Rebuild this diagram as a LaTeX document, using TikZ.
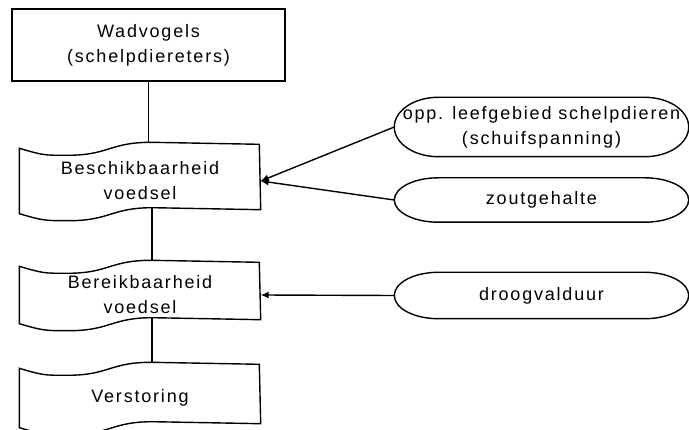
\documentclass[tikz,border=0pt]{standalone}
\usepackage{fontspec}
\setmainfont{Liberation Sans}[LetterSpace=10]
\usetikzlibrary{calc,arrows.meta}

\begin{document}
\begin{tikzpicture}[x=1pt,y=1pt,line width=1.4pt,
	txt/.style={font=\fontsize{18}{25}\selectfont,align=center},
	box/.style={txt,draw,minimum width=273pt,minimum height=72pt},
	tape/.style={txt,minimum width=240pt},
	oval/.style={txt,minimum width=293pt},
	arr/.style={-{Latex[length=8pt,width=7pt]}}]
	\useasboundingbox (0,0) rectangle (689,-430);
	\node[box] (wad) at (148.5,-45) {Wadvogels\\(schelpdiereters)};
	\node[tape,minimum height=64pt] (besch) at (140,-181) {Beschikbaarheid\\voedsel};
	\node[tape,minimum height=56pt] (bereik) at (140,-295) {Bereikbaarheid\\voedsel};
	\node[tape,minimum height=58pt] (verst) at (140,-398) {Verstoring};
	\node[oval,minimum height=58pt] (opp) at (541.5,-127) {opp. leefgebied schelpdieren\\(schuifspanning)};
	\node[oval,minimum height=43pt] (zout) at (541.5,-200) {zoutgehalte};
	\node[oval,minimum height=45pt] (droog) at (541.5,-295.5) {droogvalduur};

	\foreach \nd in {besch,bereik,verst}
		\draw (\nd.north west) .. controls +(24,-7) and +(-24,0) .. ++(48,-7) .. controls +(42,0) and +(-42,0) .. ++(84,13) -- ++(108,-2) -- ([yshift=4pt]\nd.south east) -- ++(-108,2) .. controls +(-42,0) and +(42,0) .. ++(-84,-13) .. controls +(-24,0) and +(24,-7) .. (\nd.south west) -- cycle;
	\foreach \nd in {opp,zout,droog}
		\draw let \p1=($(\nd.north)-(\nd.south)$) in ([xshift=44pt]\nd.north west) -- ([xshift=-44pt]\nd.north east) arc[start angle=90,end angle=-90,x radius=44pt,y radius={0.5*\y1}] -- ([xshift=44pt]\nd.south west) arc[start angle=270,end angle=90,x radius=44pt,y radius={0.5*\y1}] -- cycle;

	\draw (wad.south) -- ([yshift=6pt]wad.south |- besch.north);
	\draw ([xshift=12pt,yshift=6pt]besch.south) -- ([xshift=12pt,yshift=6pt]bereik.north);
	\draw ([xshift=12pt,yshift=6pt]bereik.south) -- ([xshift=12pt,yshift=6pt]verst.north);
	\draw[arr] (opp.west) -- (besch.east);
	\draw[arr] (zout.west) -- (besch.east);
	\draw[arr] (droog.west) -- (bereik.east);
\end{tikzpicture}
\end{document}
